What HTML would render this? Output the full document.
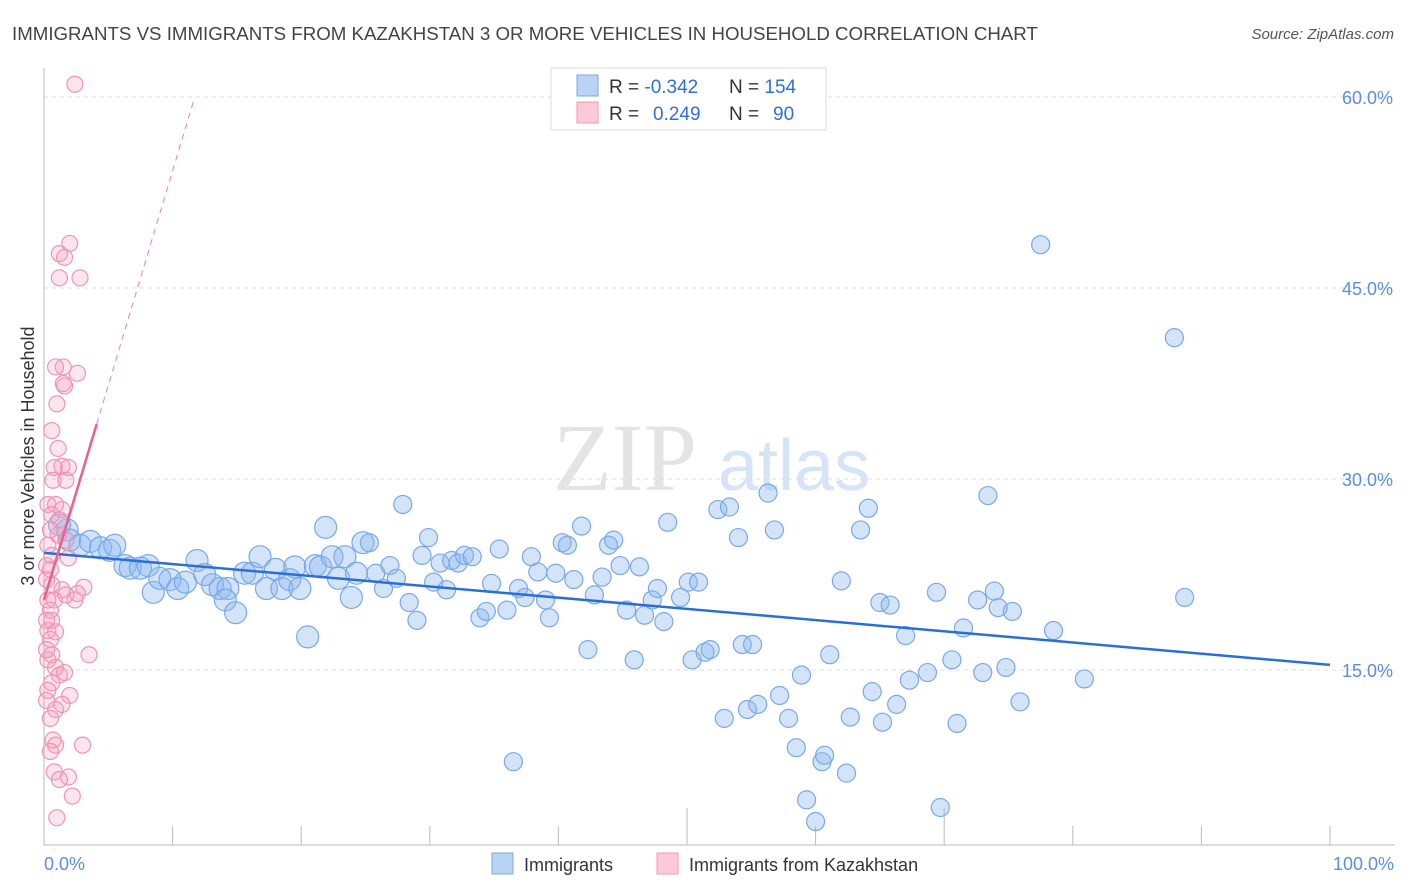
<!DOCTYPE html>
<html><head><meta charset="utf-8"><style>
body{margin:0;background:#fff;font-family:"Liberation Sans",sans-serif}
svg{display:block}
</style></head><body>
<svg id="chart" width="1406" height="892" xmlns="http://www.w3.org/2000/svg" font-family="Liberation Sans, sans-serif">
<text x="12" y="40" font-size="18.7" fill="#444">IMMIGRANTS VS IMMIGRANTS FROM KAZAKHSTAN 3 OR MORE VEHICLES IN HOUSEHOLD CORRELATION CHART</text>
<text x="1394" y="39" font-size="15" fill="#555" text-anchor="end" font-style="italic">Source: ZipAtlas.com</text>
<g>
<text x="553" y="490" font-size="96" font-family="Liberation Serif, serif" fill="#e4e4e4">ZIP</text>
<text x="718" y="490" font-size="72" fill="#d6e4f7">atlas</text>
</g>
<g id="grid"></g>
<g id="axes"></g>
<g id="pts"></g>
<g id="lines"></g>
<text transform="translate(34,456) rotate(-90)" font-size="18" fill="#333" text-anchor="middle">3 or more Vehicles in Household</text>
<text x="44" y="870" font-size="18" fill="#5a8ee0">0.0%</text>
<text x="1394" y="870" font-size="18" fill="#5a8ee0" text-anchor="end">100.0%</text>
<g>
<rect x="551" y="68" width="275" height="62" fill="#fff" stroke="#ddd"/>
<rect x="577" y="75" width="21" height="21" fill="#b9d3f5" stroke="#7aa7e8"/>
<rect x="577" y="102" width="21" height="21" fill="#fbc9d8" stroke="#f29ab6"/>
<text x="609" y="93" font-size="19" fill="#333">R = <tspan fill="#2f6fd6">-0.342</tspan></text>
<text x="729" y="93" font-size="19" fill="#333">N = <tspan fill="#2f6fd6">154</tspan></text>
<text x="609" y="120" font-size="19" fill="#333">R = <tspan fill="#2f6fd6" x="653">0.249</tspan></text>
<text x="729" y="120" font-size="19" fill="#333">N = <tspan fill="#2f6fd6" x="773">90</tspan></text>
</g>
<g>
<rect x="492" y="853" width="21" height="21" fill="#b9d3f5" stroke="#7aa7e8"/>
<text x="524" y="871" font-size="18" fill="#333">Immigrants</text>
<rect x="657" y="853" width="21" height="21" fill="#fbc9d8" stroke="#f29ab6"/>
<text x="689" y="871" font-size="18" fill="#333">Immigrants from Kazakhstan</text>
</g>
</svg>
<script>
const blueX=[1.8,1.2,2.0,2.8,3.6,4.4,5.1,5.5,6.3,6.7,7.5,8.1,8.5,9.0,9.8,10.4,11.0,11.9,12.5,13.1,13.7,14.3,14.1,14.9,15.6,16.2,16.8,17.3,18.0,18.5,19.1,19.5,19.9,20.5,21.1,21.5,21.9,22.4,22.9,23.4,23.9,24.3,24.8,25.3,25.8,26.4,26.9,27.4,27.9,28.4,29.0,29.4,29.9,30.3,30.8,31.3,31.7,32.2,32.7,33.3,33.9,34.4,34.8,35.4,36.0,36.5,36.9,37.4,37.9,38.4,39.0,39.3,39.8,40.3,40.7,41.2,41.8,42.3,42.8,43.4,43.9,44.3,44.8,45.3,45.9,46.3,46.7,47.3,47.7,48.2,48.5,49.5,50.1,50.4,50.9,51.4,51.8,52.4,52.9,53.3,54.0,54.3,54.7,55.1,55.5,56.3,56.8,57.2,57.9,58.5,58.9,59.3,60.0,60.5,60.7,61.1,62.0,62.4,62.7,63.5,64.1,64.4,65.0,65.2,65.8,66.3,67.0,67.3,68.7,69.4,69.7,70.6,71.0,71.5,72.6,73.0,73.4,73.9,74.2,74.8,75.3,75.9,77.5,78.5,80.9,87.9,88.7];
const blueY=[26.0,26.4,25.2,24.8,25.1,24.6,24.4,24.8,23.2,23.0,23.0,23.2,21.1,22.2,22.1,21.4,21.9,23.6,22.5,21.7,21.4,21.4,20.5,19.5,22.6,22.6,23.9,21.4,22.9,21.4,22.1,23.1,21.4,17.6,23.2,23.1,26.2,23.9,22.2,23.9,20.7,22.6,25.0,25.0,22.6,21.4,23.2,22.2,28.0,20.3,18.9,24.0,25.4,21.9,23.4,21.3,23.6,23.4,24.0,23.9,19.1,19.6,21.8,24.5,19.7,7.8,21.4,20.7,23.9,22.7,20.5,19.1,22.6,25.0,24.8,22.1,26.3,16.6,20.9,22.3,24.8,25.2,23.2,19.7,15.8,23.1,19.3,20.5,21.4,18.8,26.6,20.7,21.9,15.8,21.9,16.4,16.6,27.6,11.2,27.8,25.4,17.0,11.9,17.0,12.3,28.9,26.0,13.0,11.2,8.9,14.6,4.8,3.1,7.8,8.3,16.2,22.0,6.9,11.3,26.0,27.7,13.3,20.3,10.9,20.1,12.3,17.7,14.2,14.8,21.1,4.2,15.8,10.8,18.3,20.5,14.8,28.7,21.2,19.9,15.2,19.6,12.5,48.4,18.1,14.3,41.1,20.7];
const pinkX=[2.4,2.0,1.2,1.6,2.8,1.2,0.9,1.5,2.6,1.5,1.6,1.0,0.6,1.1,1.4,0.8,1.9,0.7,1.7,0.3,0.9,1.4,0.6,1.2,0.5,1.1,1.7,0.2,0.6,1.9,3.1,0.6,1.4,1.7,2.4,2.6,0.3,0.5,0.6,0.3,0.9,0.5,0.6,0.3,0.9,1.2,0.6,1.6,0.3,2.0,3.5,0.9,1.4,0.5,0.7,0.9,3.0,0.5,0.8,1.9,1.2,2.2,1.0,0.2,0.2,0.2,0.2,0.3,0.5,0.8];
const pinkY=[61.0,48.5,47.7,47.4,45.8,45.8,38.8,38.8,38.3,37.5,37.3,35.9,33.8,32.4,31.0,30.9,30.9,29.9,29.9,28.0,28.0,27.6,27.2,26.8,26.0,25.6,25.2,23.2,24.0,23.8,21.5,21.7,21.3,20.9,20.5,21.0,20.5,19.7,18.9,18.1,18.0,17.4,16.2,15.8,15.2,14.6,14.0,14.8,13.4,13.0,16.2,11.9,12.3,11.2,9.5,9.1,9.1,8.6,7.0,6.6,6.4,5.1,3.4,22.1,18.9,16.6,12.6,24.8,22.9,20.5];
const yTicks=[15,30,45,60];
const yTickLabels=["15.0%","30.0%","45.0%","60.0%"];
const xTicks=[10,20,30,40,50,60,70,80,90,100];
const blueTrend=[24.2,15.4];
const pinkTrend=[20.5,3.37];
const pinkSolidEnd=4.1;

const X0=44,X1=1330,YB=861,PXPER=191/15;
const sx=v=>X0+(X1-X0)*v/100;
const sy=v=>YB-v*PXPER;
const NS="http://www.w3.org/2000/svg";
function mk(tag,attrs,parent){const e=document.createElementNS(NS,tag);for(const k in attrs)e.setAttribute(k,attrs[k]);parent.appendChild(e);return e;}
const grid=document.getElementById('grid'),axes=document.getElementById('axes'),pts=document.getElementById('pts'),lines=document.getElementById('lines');
yTicks.forEach((t,i)=>{
  const l=mk('line',{x1:X0,x2:1395,y1:sy(t),y2:sy(t),stroke:'#ddd','stroke-dasharray':'4,4'},grid);
  
  
  const tx=mk('text',{x:1393,y:sy(t)+7,'font-size':18,fill:'#5a8ee0','text-anchor':'end'},axes);
  tx.textContent=yTickLabels[i];
  
  
});
mk('line',{x1:X0,x2:X0,y1:68,y2:845,stroke:'#bbb'},axes);
mk('line',{x1:X0,x2:1395,y1:845,y2:845,stroke:'#bbb'},axes);
xTicks.forEach(t=>{
  const l=mk('line',{x1:sx(t),x2:sx(t),y1:(t===50||t===70)?808:826,y2:845,stroke:'#bbb'},axes);
  
  
});
blueX.forEach((x,i)=>{
  const c=mk('circle',{cx:sx(x),cy:sy(blueY[i]),r:x<25?11:9,fill:'rgba(140,185,240,0.38)',stroke:'#78a9ec','stroke-width':1.2},pts);
  
  
});
pinkX.forEach((x,i)=>{
  const c=mk('circle',{cx:sx(x),cy:sy(pinkY[i]),r:8,fill:'rgba(245,160,188,0.28)',stroke:'#f094b4','stroke-width':1.2},pts);
  
  
});
const bl=mk('line',{x1:sx(0),y1:sy(blueTrend[0]),x2:sx(100),y2:sy(blueTrend[1]),stroke:'#2a6fd6','stroke-width':2.5},lines);


const pEnd=(60-pinkTrend[0])/pinkTrend[1];
const pd=mk('line',{x1:sx(pinkSolidEnd),y1:sy(pinkTrend[0]+pinkTrend[1]*pinkSolidEnd),x2:sx(pEnd),y2:sy(60),stroke:'#ee7fa3','stroke-width':1,'stroke-dasharray':'6,5'},lines);


const ps=mk('line',{x1:sx(0),y1:sy(pinkTrend[0]),x2:sx(pinkSolidEnd),y2:sy(pinkTrend[0]+pinkTrend[1]*pinkSolidEnd),stroke:'#e8608e','stroke-width':2.5},lines);


</script>
</body></html>
